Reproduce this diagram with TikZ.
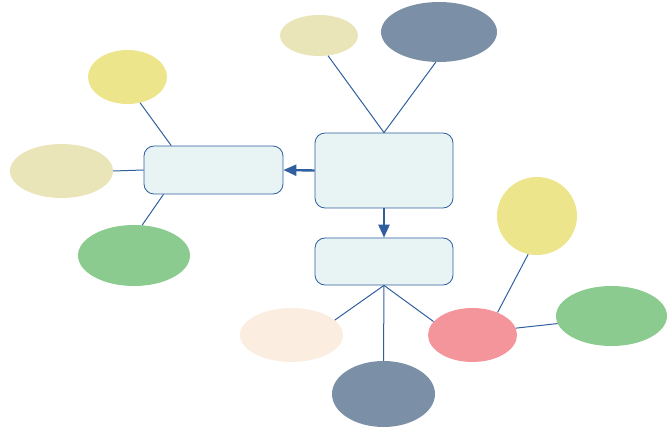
\documentclass[tikz,border=0pt]{standalone}
\usepackage{xcolor}
\usepackage{tikz}
\usetikzlibrary{shapes.geometric,arrows.meta}
\definecolor{linkblue}{HTML}{2F5F9F}
\definecolor{boxfill}{HTML}{E8F4F4}
\definecolor{khaki}{HTML}{EAE5B9}
\definecolor{lemon}{HTML}{EDE58B}
\definecolor{slate}{HTML}{7B8FA6}
\definecolor{leafgreen}{HTML}{8BCB8F}
\definecolor{peach}{HTML}{FBEEE1}
\definecolor{rose}{HTML}{F4959B}
\tikzset{
    topic/.style = {rectangle, rounded corners=10pt, draw=linkblue, fill=boxfill, line width=0.8pt, inner sep=0pt},
    leaf/.style = {ellipse, inner sep=0pt, draw=none},
    link/.style = {draw=linkblue, line width=1pt},
    arrow/.style = {draw=linkblue, line width=2.4pt, -{Triangle[length=13pt,width=11pt]}}
}
\begin{document}
\begin{tikzpicture}[x=1pt, y=-1pt]
\useasboundingbox (0,0) rectangle (667,430);
\node (main) [topic, minimum width=138pt, minimum height=75pt] at (384,170.5) {};
\node (side) [topic, minimum width=139pt, minimum height=48pt] at (213.5,170) {};
\node (low) [topic, minimum width=138pt, minimum height=47pt] at (384,261.5) {};

\node (topsmall) [leaf, fill=khaki, minimum width=78pt, minimum height=41pt] at (319,35.5) {};
\node (topbig) [leaf, fill=slate, minimum width=116pt, minimum height=60pt] at (439,32) {};
\node (lyellow) [leaf, fill=lemon, minimum width=79pt, minimum height=54pt] at (127.5,77) {};
\node (lkhaki) [leaf, fill=khaki, minimum width=103pt, minimum height=54pt] at (61.5,171) {};
\node (lgreen) [leaf, fill=leafgreen, minimum width=112pt, minimum height=61pt] at (134,255.5) {};
\node (bpeach) [leaf, fill=peach, minimum width=103pt, minimum height=54pt] at (291.5,335) {};
\node (bslate) [leaf, fill=slate, minimum width=103pt, minimum height=66pt] at (383.5,394) {};
\node (bpink) [leaf, fill=rose, minimum width=89pt, minimum height=54pt] at (472.5,335) {};
\node (ryellow) [leaf, fill=lemon, minimum width=80pt, minimum height=78pt] at (537,216) {};
\node (rgreen) [leaf, fill=leafgreen, minimum width=111pt, minimum height=60pt] at (611.5,316) {};

\draw [arrow] (main.west) -- (side.east);
\draw [arrow] (main.south) -- (low.north);
\draw [link] (main.north) -- (topsmall.-66);
\draw [link] (main.north) -- (topbig.264);
\draw [link] (side.150) -- (lyellow.-64);
\draw [link] (side.west) -- (lkhaki.east);
\draw [link] (side.206) -- (lgreen.75);
\draw [link] (low.south) -- (bpeach.19);
\draw [link] (low.south) -- (bslate.north);
\draw [link] (low.south) -- (bpink.161);
\draw [link] (bpink.42) -- (ryellow.257);
\draw [link] (bpink.9) -- (rgreen.188);
\end{tikzpicture}
\end{document}
